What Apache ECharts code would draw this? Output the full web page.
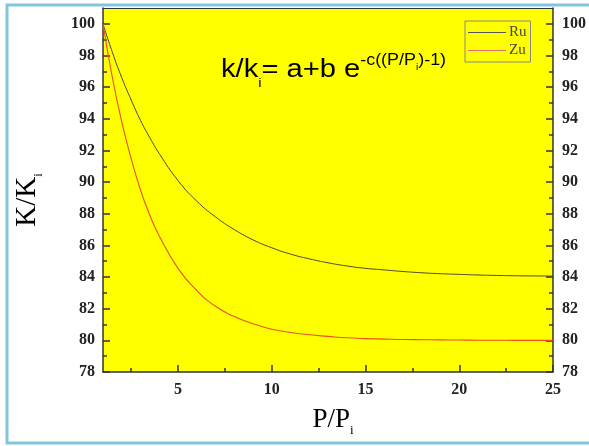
<head>
    <meta charset="utf-8">
    <title>k/ki</title>
    <script src="https://cdn.jsdelivr.net/npm/echarts@6/dist/echarts.min.js"></script>
    <style>
        body { margin: 0; background: #fff; }
    </style>
</head>

<body>
    <div id="main" style="width: 589px; height: 446px;"></div>

    <script type="text/javascript">

        // P/Pi values where the curves were read
        const ppi = [1, 1.5, 2, 2.5, 3, 3.5, 4, 5, 6, 7, 8, 9, 10, 11, 12, 13, 14, 15, 16, 17, 18, 19, 20, 21, 22, 23, 24, 25]
        const ru = [100, 98.2, 96.6, 95.2, 93.9, 92.8, 91.8, 90.1, 88.8, 87.8, 87.0, 86.35, 85.85, 85.45, 85.15, 84.9, 84.7, 84.55, 84.45, 84.35, 84.27, 84.21, 84.17, 84.13, 84.1, 84.08, 84.07, 84.06]
        const zu = [100, 96.6, 93.8, 91.5, 89.5, 87.9, 86.6, 84.55, 83.15, 82.15, 81.5, 81.05, 80.7, 80.5, 80.35, 80.25, 80.16, 80.11, 80.08, 80.05, 80.04, 80.03, 80.02, 80.01, 80.01, 80.0, 80.0, 80.0]

        const xMajor = [5, 10, 15, 20, 25]
        const xMinor = [2.5, 7.5, 12.5, 17.5, 22.5]
        const yMajor = [78, 80, 82, 84, 86, 88, 90, 92, 94, 96, 98, 100]
        const yMinor = [79, 81, 83, 85, 87, 89, 91, 93, 95, 97, 99]

        const axisColor = '#333'
        const labelFont = { fontFamily: 'Liberation Serif', fontWeight: 'bold', fontSize: 16, color: '#222' }

        function majorAxis(pos, ticks, extra) {
            return Object.assign({
                type: 'value',
                position: pos,
                axisLine: { show: true, onZero: false, lineStyle: { color: axisColor, width: 1.5 } },
                axisTick: { inside: true, length: 7, customValues: ticks, lineStyle: { color: axisColor, width: 1.5 } },
                axisLabel: Object.assign({ customValues: ticks }, labelFont),
                splitLine: { show: false }
            }, extra)
        }

        function minorAxis(pos, ticks, extra) {
            return Object.assign({
                type: 'value',
                position: pos,
                axisLine: { show: false, onZero: false },
                axisTick: { inside: true, length: 4, customValues: ticks, lineStyle: { color: axisColor, width: 1.5 } },
                axisLabel: { show: false },
                splitLine: { show: false }
            }, extra)
        }

        var myChart = echarts.init(document.getElementById('main'));

        option = {
            animation: false,
            backgroundColor: '#fff',
            grid: {
                left: 103,
                right: 31,
                top: 8,
                bottom: 74,
                show: true,
                backgroundColor: '#ffff00',
                borderWidth: 0
            },
            legend: {
                data: ['Ru', 'Zu'],
                orient: 'vertical',
                left: 465,
                top: 21,
                padding: [4, 4, 4, 3],
                itemGap: 3,
                icon: 'rect',
                itemWidth: 38,
                itemHeight: 1,
                borderColor: '#888',
                borderWidth: 1,
                backgroundColor: '#ffff00',
                textStyle: { fontFamily: 'Liberation Serif', fontSize: 15, color: '#444', padding: [0, 0, 0, -2] }
            },
            xAxis: [
                majorAxis('bottom', xMajor, { min: 1, max: 25, axisLabel: Object.assign({ customValues: xMajor, margin: 10 }, labelFont) }),
                minorAxis('bottom', xMinor, { min: 1, max: 25 }),
                {
                    type: 'value', position: 'top', min: 1, max: 25,
                    axisLine: { show: true, onZero: false, lineStyle: { color: axisColor, width: 1 } },
                    axisTick: { show: false }, axisLabel: { show: false }, splitLine: { show: false }
                }
            ],
            yAxis: [
                majorAxis('left', yMajor, { min: 78, max: 101, axisLabel: Object.assign({ customValues: yMajor, margin: 8 }, labelFont) }),
                minorAxis('left', yMinor, { min: 78, max: 101 }),
                majorAxis('right', yMajor, { min: 78, max: 101, axisLabel: Object.assign({ customValues: yMajor, margin: 9 }, labelFont) }),
                minorAxis('right', yMinor, { min: 78, max: 101 })
            ],
            series: [
                {
                    name: 'Ru',
                    type: 'line',
                    smooth: true,
                    symbol: 'none',
                    color: '#555',
                    lineStyle: { width: 1, color: '#4a4a30' },
                    data: ppi.map((p, i) => [p, ru[i]])
                },
                {
                    name: 'Zu',
                    type: 'line',
                    smooth: true,
                    symbol: 'none',
                    color: '#e07070',
                    lineStyle: { width: 1.1, color: '#e8501e' },
                    data: ppi.map((p, i) => [p, zu[i]])
                }
            ],
            graphic: [
                // light blue frame round the figure
                {
                    type: 'rect',
                    z: -10,
                    shape: { x: 7, y: 5, width: 600, height: 438 },
                    style: { fill: 'none', stroke: '#7fc6df', lineWidth: 3 }
                },
                // y axis title
                {
                    type: 'text',
                    x: 27,
                    y: 200,
                    rotation: Math.PI / 2,
                    style: {
                        text: '{m|K/K}{s|i}',
                        align: 'center',
                        verticalAlign: 'middle',
                        rich: {
                            m: { fontFamily: 'Liberation Serif', fontSize: 29, color: '#111', lineHeight: 36 },
                            s: { fontFamily: 'Liberation Serif', fontSize: 13, color: '#111', lineHeight: 14, verticalAlign: 'bottom' }
                        }
                    }
                },
                // x axis title
                {
                    type: 'text',
                    x: 333,
                    y: 420,
                    style: {
                        text: '{m|P/P}{s|i}',
                        align: 'center',
                        verticalAlign: 'middle',
                        rich: {
                            m: { fontFamily: 'Liberation Serif', fontSize: 27, color: '#111', lineHeight: 34 },
                            s: { fontFamily: 'Liberation Serif', fontSize: 13, color: '#111', lineHeight: 14, verticalAlign: 'bottom' }
                        }
                    }
                },
                // fitted equation
                {
                    type: 'text',
                    x: 221,
                    y: 50,
                    scaleX: 1.12,
                    style: {
                        text: '{m|k/k}{s|i}{m|= a+b e}{p|-c((P/P}{ps|i}{p|)-1)}',
                        align: 'left',
                        verticalAlign: 'top',
                        rich: {
                            m: { fontFamily: 'Liberation Sans', fontSize: 26, color: '#111', lineHeight: 40 },
                            s: { fontFamily: 'Liberation Sans', fontSize: 13, color: '#111', lineHeight: 14, verticalAlign: 'bottom' },
                            p: { fontFamily: 'Liberation Sans', fontSize: 16, color: '#111', lineHeight: 18, verticalAlign: 'top', padding: [3, 0, 0, 0] },
                            ps: { fontFamily: 'Liberation Sans', fontSize: 9, color: '#111', lineHeight: 10, verticalAlign: 'top', padding: [13, 0, 0, 0] }
                        }
                    }
                }
            ]
        };

        myChart.setOption(option);
    </script>
</body>
